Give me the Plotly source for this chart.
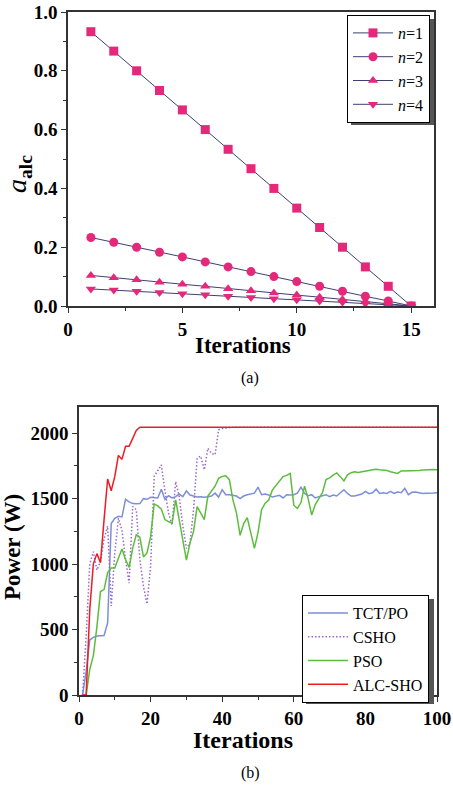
import plotly.graph_objects as go

# ---------------- data: panel (a) ----------------
iters_a = list(range(1, 16))
a_n1 = [0.933, 0.867, 0.800, 0.733, 0.667, 0.600, 0.533, 0.467, 0.400, 0.333, 0.267, 0.200, 0.133, 0.067, 0.000]
a_n2 = [0.233, 0.217, 0.200, 0.183, 0.167, 0.150, 0.133, 0.117, 0.100, 0.083, 0.067, 0.050, 0.033, 0.017, 0.000]
a_n3 = [0.104, 0.096, 0.089, 0.081, 0.074, 0.067, 0.059, 0.052, 0.044, 0.037, 0.030, 0.022, 0.015, 0.007, 0.000]
a_n4 = [0.058, 0.054, 0.050, 0.046, 0.042, 0.038, 0.033, 0.029, 0.025, 0.021, 0.017, 0.013, 0.008, 0.004, 0.000]
labels_a = ["<i>n</i>=1", "<i>n</i>=2", "<i>n</i>=3", "<i>n</i>=4"]

# ---------------- data: panel (b) ----------------
iters_b = list(range(1, 101))
tct_po = [0, 180, 420, 440, 450, 453, 455, 550, 1310, 1350,
          1365, 1360, 1495, 1475, 1462, 1460, 1462, 1500, 1495, 1510,
          1505, 1505, 1572, 1495, 1522, 1505, 1515, 1535, 1515, 1560,
          1528, 1518, 1512, 1515, 1510, 1515, 1520, 1542, 1512, 1568,
          1530, 1530, 1525, 1520, 1500, 1520, 1530, 1538, 1542, 1588,
          1530, 1535, 1528, 1512, 1520, 1525, 1505, 1530, 1528, 1530,
          1542, 1588, 1540, 1522, 1530, 1505, 1515, 1520, 1530, 1515,
          1528, 1520, 1545, 1568, 1540, 1520, 1520, 1528, 1535, 1555,
          1538, 1545, 1572, 1540, 1545, 1540, 1555, 1540, 1550, 1545,
          1578, 1530, 1548, 1550, 1545, 1540, 1542, 1545, 1543, 1545]
csho = [0, 450, 1000, 1095, 955, 1020, 1190, 1290, 680, 1085,
        1350, 1260, 1035, 855, 1440, 1415, 1035, 830, 695, 985,
        1670, 1720, 1758, 1565, 1390, 1300, 1630, 1515, 1290, 1120,
        1160, 1415, 1810, 1825, 1720, 1885, 1845, 1835, 2025, 2035,
        2040, 2040, 2045, 2045, 2045, 2045, 2045, 2045, 2045, 2045,
        2045, 2045, 2045, 2045, 2045, 2045, 2045, 2045, 2045, 2045,
        2045, 2045, 2045, 2045, 2045, 2045, 2045, 2045, 2045, 2045,
        2045, 2045, 2045, 2045, 2045, 2045, 2045, 2045, 2045, 2045,
        2045, 2045, 2045, 2045, 2045, 2045, 2045, 2045, 2045, 2045,
        2045, 2045, 2045, 2045, 2045, 2045, 2045, 2045, 2045, 2045]
pso = [0, 0, 195, 300, 520, 790, 805, 935, 970, 970,
       1045, 1115, 1035, 975, 1120, 1225, 1205, 1055, 1085, 1210,
       1460, 1445, 1420, 1340, 1325, 1312, 1490, 1340, 1185, 1030,
       1160, 1250, 1440, 1395, 1340, 1520, 1555, 1595, 1655, 1670,
       1675, 1645, 1490, 1390, 1220, 1310, 1355, 1235, 1120, 1240,
       1415, 1465, 1490, 1565, 1600, 1630, 1668, 1678, 1692, 1450,
       1425, 1470, 1595, 1500, 1375, 1455, 1505, 1545, 1645, 1658,
       1680, 1697, 1668, 1635, 1682, 1698, 1705, 1700, 1705, 1712,
       1715, 1720, 1725, 1720, 1718, 1715, 1705, 1698, 1693, 1712,
       1712, 1715, 1712, 1710, 1715, 1718, 1720, 1722, 1722, 1720]
alc_sho = [0, 0, 650, 1000, 1080, 1010, 1340, 1650, 1560, 1670,
           1830, 1800, 1900, 1900, 1960, 2020, 2045, 2045, 2045, 2045] + [2045] * 80
labels_b = ["TCT/PO", "CSHO", "PSO", "ALC-SHO"]

W, H = 453, 786
FONT = "Liberation Serif"

def px(x):
    return x / W

def py(y):
    return 1 - y / H

fig = go.Figure()

# panel (a) traces
sym = ["square", "circle", "triangle-up", "triangle-down"]
for vals, lab, s in zip([a_n1, a_n2, a_n3, a_n4], labels_a, sym):
    fig.add_trace(go.Scatter(
        x=iters_a, y=vals, name=lab, mode="lines+markers",
        line=dict(color="#3d3f72", width=1),
        marker=dict(symbol=s, size=9, color="#e6287a", line=dict(width=0)),
        xaxis="x", yaxis="y", legend="legend"))

# panel (b) traces
colors_b = ["#7d8fd8", "#9a68cc", "#5cbd3c", "#ec1c24"]
dashes_b = ["solid", "1.5px,2px", "solid", "solid"]
for vals, lab, c, d in zip([tct_po, csho, pso, alc_sho], labels_b, colors_b, dashes_b):
    fig.add_trace(go.Scatter(
        x=iters_b, y=vals, name=lab, mode="lines",
        line=dict(color=c, width=1.5, dash=d),
        xaxis="x2", yaxis="y2", legend="legend2"))

axis_common = dict(
    showgrid=False, zeroline=False, showline=True, linecolor="#333333", linewidth=1.5,
    mirror=True, ticks="outside", ticklen=5, tickwidth=1.2, tickcolor="#333333",
    automargin=False,
    tickfont=dict(family=FONT, size=19, color="black", weight="bold"),
)

fig.update_layout(
    width=W, height=H,
    margin=dict(l=0, r=0, t=0, b=0),
    font=dict(family=FONT, color="black"),
    paper_bgcolor="white", plot_bgcolor="white",
    xaxis=dict(domain=[px(68), px(434)], range=[0, 16], anchor="y",
               tickvals=[0, 5, 10, 15],
               minor=dict(tickvals=[2.5, 7.5, 12.5], ticks="outside", ticklen=3, tickcolor="#333333"),
               **axis_common),
    yaxis=dict(domain=[py(306), py(12)], range=[0, 1.0], anchor="x",
               tickvals=[0, 0.2, 0.4, 0.6, 0.8, 1.0], tickformat=".1f",
               minor=dict(tickvals=[0.1, 0.3, 0.5, 0.7, 0.9], ticks="outside", ticklen=3, tickcolor="#333333"),
               **axis_common),
    xaxis2=dict(domain=[px(79), px(437)], range=[0, 100], anchor="y2",
                tickvals=[0, 20, 40, 60, 80, 100],
                minor=dict(tickvals=[10, 30, 50, 70, 90], ticks="outside", ticklen=3, tickcolor="#333333"),
                **axis_common),
    yaxis2=dict(domain=[py(695), py(407)], range=[0, 2200], anchor="x2",
                tickvals=[0, 500, 1000, 1500, 2000],
                minor=dict(tickvals=[250, 750, 1250, 1750], ticks="outside", ticklen=3, tickcolor="#333333"),
                **axis_common),
    legend=dict(x=px(347), y=py(15), xanchor="left", yanchor="top",
                bgcolor="white", bordercolor="black", borderwidth=1,
                font=dict(family=FONT, size=16, color="black"),
                itemwidth=40, tracegroupgap=0),
    legend2=dict(x=px(302), y=py(595), xanchor="left", yanchor="top",
                 bgcolor="white", bordercolor="black", borderwidth=1,
                 font=dict(family=FONT, size=16, color="black"),
                 itemwidth=40, tracegroupgap=0),
    showlegend=True,
)

# legend shadows
fig.add_shape(type="rect", xref="paper", yref="paper",
              x0=px(351), x1=px(434), y0=py(125), y1=py(19),
              fillcolor="#555555", line=dict(width=0), layer="above")
fig.add_shape(type="rect", xref="paper", yref="paper",
              x0=px(306), x1=px(434), y0=py(704), y1=py(599),
              fillcolor="#555555", line=dict(width=0), layer="above")

ann = [
    dict(text="<b>Iterations</b>", x=px(243), y=py(345), font=dict(size=23)),
    dict(text="<i>a</i><sub><b>alc</b></sub>", x=px(18), y=py(174), textangle=-90, font=dict(size=28)),
    dict(text="(a)", x=px(250), y=py(378), font=dict(size=16)),
    dict(text="<b>Power (W)</b>", x=px(12), y=py(547), textangle=-90, font=dict(size=23)),
    dict(text="<b>Iterations</b>", x=px(243), y=py(740), font=dict(size=24)),
    dict(text="(b)", x=px(250), y=py(773), font=dict(size=16)),
]
for a in ann:
    a["font"] = dict(family=FONT, color="black", size=a["font"]["size"])
    fig.add_annotation(xref="paper", yref="paper", showarrow=False,
                       xanchor="center", yanchor="middle", **a)

fig.write_html("out.html", config={"displayModeBar": False},
               post_script="document.body.style.margin='0px';document.body.style.overflow='hidden';")
